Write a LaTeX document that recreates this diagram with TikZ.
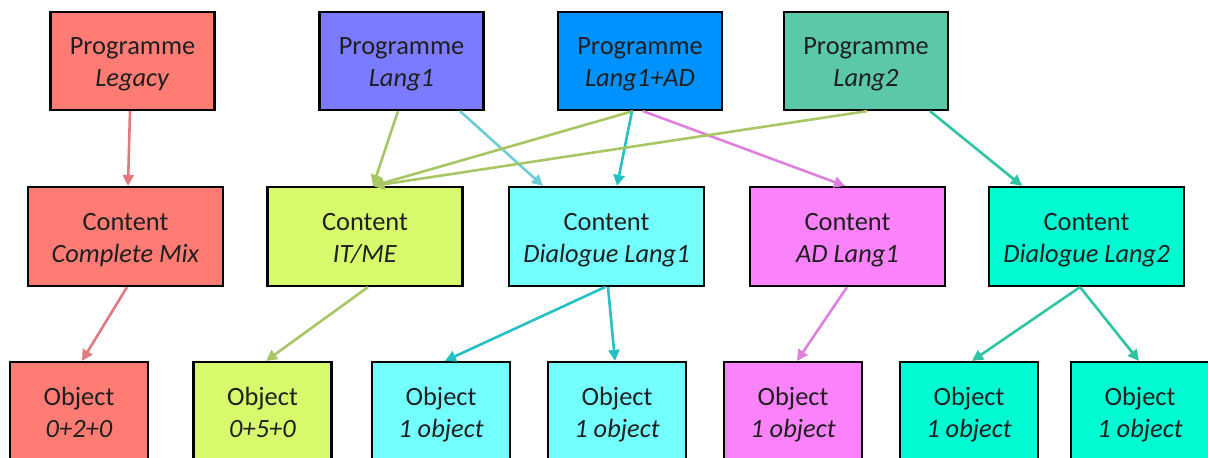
\documentclass[tikz,border=0pt]{standalone}
\usepackage{fontspec}
\setmainfont{Carlito}
\usetikzlibrary{arrows.meta,calc}
\newcommand\dosl[2]{\rule{0pt}{13pt}#1\\\textit{#2}\rule[-3.5pt]{0pt}{3.5pt}}

\begin{document}
\begin{tikzpicture}[x=0.5pt,y=-0.5pt,
		caja/.style={draw=black,line width=1.1pt,align=center,inner sep=0pt,text=black!88,font=\fontsize{13.2}{16}\selectfont},
		prog/.style={caja,minimum width=82pt,minimum height=49pt},
		cont/.style={caja,minimum width=97.5pt,minimum height=49.5pt},
		obj/.style={caja,minimum width=69pt,minimum height=50pt},
		flecha/.style={line width=1.3pt,-{Triangle[length=5.5pt,width=5.5pt]}}]
		%COLORES
		\definecolor{salmon}{RGB}{255,124,117}
		\definecolor{lilac}{RGB}{123,123,255}
		\definecolor{azul}{RGB}{0,146,255}
		\definecolor{verdemar}{RGB}{92,200,170}
		\definecolor{lima}{RGB}{214,250,108}
		\definecolor{cian}{RGB}{116,255,255}
		\definecolor{magenta}{RGB}{250,130,250}
		\definecolor{aqua}{RGB}{0,250,210}
		\definecolor{fsalmon}{RGB}{224,122,126}
		\definecolor{fverde}{RGB}{168,198,100}
		\definecolor{fcian}{RGB}{108,205,216}
		\definecolor{fteal}{RGB}{36,192,196}
		\definecolor{fmagenta}{RGB}{222,128,222}
		\definecolor{faqua}{RGB}{46,196,164}

		%MARCO
		\useasboundingbox (0,0) rectangle (1208,457);
		\clip (0,0) rectangle (1208,457);

		%PROGRAMAS
		\node[prog,fill=salmon] (leg) at (132.5,61) {\dosl{Programme}{Legacy}};
		\node[prog,fill=lilac] (l1) at (401.5,61) {\dosl{Programme}{Lang1}};
		\node[prog,fill=azul] (lad) at (640,61) {\dosl{Programme}{Lang1+AD}};
		\node[prog,fill=verdemar] (l2) at (866,61) {\dosl{Programme}{Lang2}};

		%CONTENIDOS
		\node[cont,fill=salmon] (mix) at (125.5,236.5) {\dosl{Content}{Complete Mix}};
		\node[cont,fill=lima] (itme) at (365,236.5) {\dosl{Content}{IT/ME}};
		\node[cont,fill=cian] (dl1) at (606.5,236.5) {\dosl{Content}{Dialogue Lang1}};
		\node[cont,fill=magenta] (ad1) at (847.5,236.5) {\dosl{Content}{AD Lang1}};
		\node[cont,fill=aqua] (dl2) at (1086.5,236.5) {\dosl{Content}{Dialogue Lang2}};

		%OBJETOS
		\foreach \n/\x/\c/\t in {o1/79/salmon/0+2+0, o2/262.5/lima/0+5+0, o3/441/cian/1 object, o4/617/cian/1 object, o5/793/magenta/1 object, o6/969/aqua/1 object, o7/1140/aqua/1 object}{
			\node[obj,fill=\c] (\n) at (\x,412) {\dosl{Object}{\t}};
		}

		%FLECHAS
		\draw[flecha,fsalmon] ($(leg.south)+(-2.5,0)$) -- ($(mix.north)+(2.5,0)$);
		\draw[flecha,fverde] ($(l1.south)+(-3.5,0)$) -- ($(itme.north)+(8,0)$);
		\draw[flecha,fcian] ($(l1.south)+(58.5,0)$) -- ($(dl1.north)+(-63.5,0)$);
		\draw[flecha,fverde] ($(lad.south)+(-7,0)$) -- ($(itme.north)+(8,0)$);
		\draw[flecha,fteal] ($(lad.south)+(-8,0)$) -- ($(dl1.north)+(10.5,0)$);
		\draw[flecha,fmagenta] ($(lad.south)+(3,0)$) -- ($(ad1.north)+(-2.5,0)$);
		\draw[flecha,fverde] ($(l2.south)+(1,0)$) -- ($(itme.north)+(8,0)$);
		\draw[flecha,faqua] ($(l2.south)+(64,0)$) -- ($(dl2.north)+(-64.5,0)$);

		\draw[flecha,fsalmon] ($(mix.south)+(1.5,0)$) -- ($(o1.north)+(3,0)$);
		\draw[flecha,fverde] ($(itme.south)+(3,0)$) -- ($(o2.north)+(3.5,0)$);
		\draw[flecha,fteal] ($(dl1.south)+(-1.5,0)$) -- ($(o3.north)+(4,0)$);
		\draw[flecha,fteal] ($(dl1.south)+(1.5,0)$) -- ($(o4.north)+(-2,0)$);
		\draw[flecha,fmagenta] ($(ad1.south)+(-0.5,0)$) -- ($(o5.north)+(4,0)$);
		\draw[flecha,faqua] ($(dl2.south)+(-6.5,0)$) -- ($(o6.north)+(3,0)$);
		\draw[flecha,faqua] ($(dl2.south)+(-6.5,0)$) -- ($(o7.north)+(-1,0)$);
	\end{tikzpicture}
\end{document}
